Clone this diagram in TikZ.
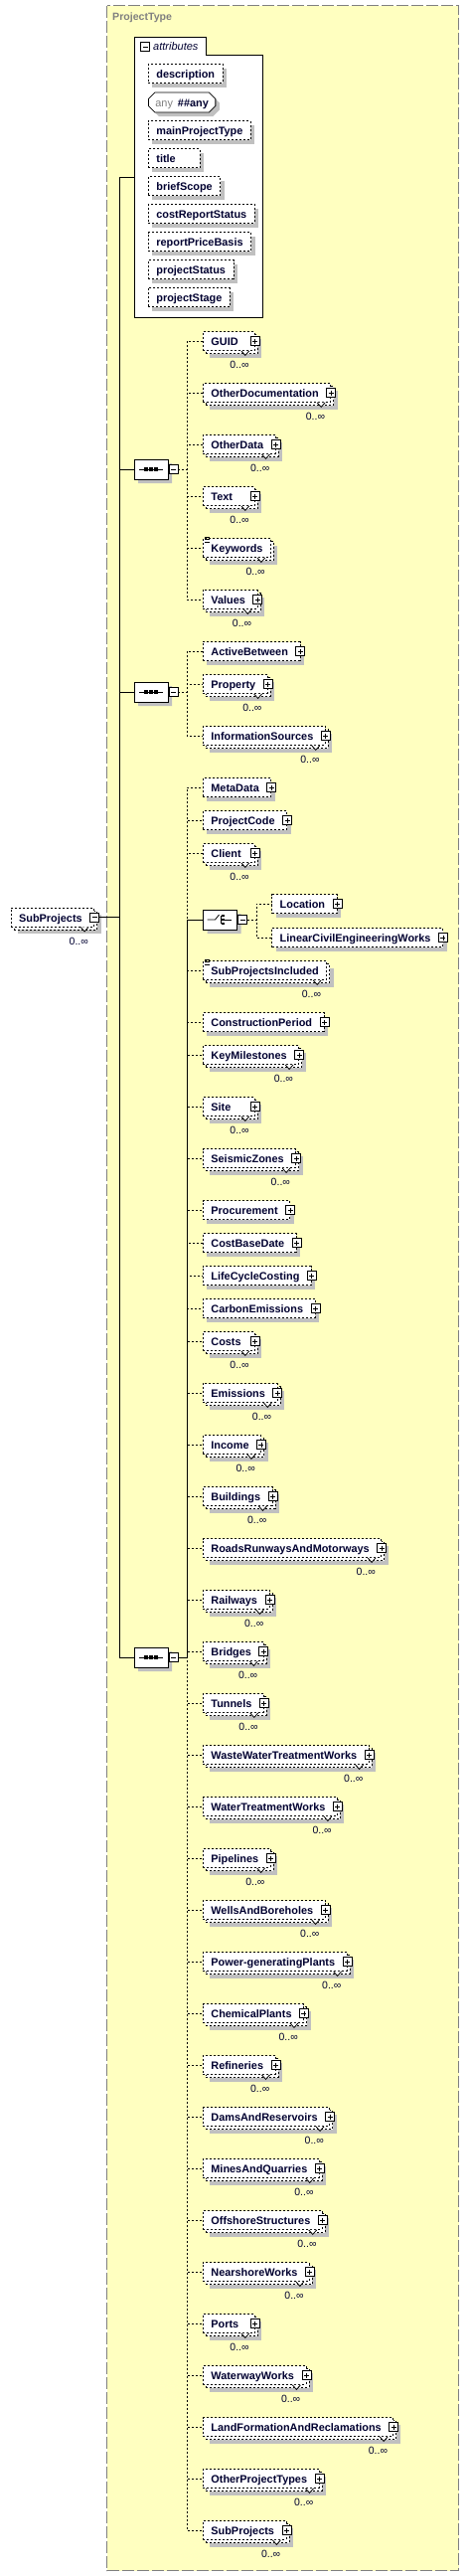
\documentclass[tikz,border=0pt]{standalone}
\usepackage{fontspec}
\setmainfont{Liberation Sans}
\usetikzlibrary{shapes.misc}
\usetikzlibrary{shadows}
\usetikzlibrary{calc}

\definecolor{ink}{RGB}{0,0,48}
\definecolor{typebg}{RGB}{255,255,192}
\definecolor{shade}{RGB}{192,192,192}
\definecolor{frame}{RGB}{128,128,128}

% name kept left in a box at least #1 wide
\newcommand\padname[2]{\setbox0=\hbox{#2}\ifdim\wd0<#1\hbox to #1{\box0\hfil}\else\box0\fi}

\tikzset{
	elem/.style = {rectangle, draw, line width = 0.8pt, dash pattern = on 2pt off 2pt, fill = white, anchor = west, minimum height = 19pt, inner xsep = 8pt, inner ysep = 0pt, text height = 9.4pt, text depth = 0pt, text = ink, font = \fontsize{10.9}{12}\selectfont\bfseries},
	kids/.style = {execute at end node = {\hspace{4pt}}},
	occ_one/.style = {drop shadow = {shadow xshift = 4pt, shadow yshift = -4pt, fill = shade, draw = none, opacity = 1}},
	occ_many/.style = {drop shadow = {shadow xshift = 7pt, shadow yshift = -7pt, fill = shade, draw = none, opacity = 1}, copy shadow = {shadow xshift = 3pt, shadow yshift = -3pt, fill = white, draw = black, line width = 0.8pt, dash pattern = on 2pt off 2pt}},
	occ_label/.style = {anchor = base east, inner sep = 0pt, text = ink, font = \fontsize{10.5}{12}\selectfont},
	notch/.style = {line width = 0.8pt, solid, fill = white},
	plus/.style = {rectangle, draw, solid, line width = 0.8pt, fill = white, minimum size = 9pt, inner sep = 0pt, path picture = {\draw[line width = 0.8pt] ([xshift = 2pt]path picture bounding box.west) -- ([xshift = -2pt]path picture bounding box.east) ([yshift = -2pt]path picture bounding box.north) -- ([yshift = 2pt]path picture bounding box.south);}},
	minus/.style = {rectangle, draw, solid, line width = 0.8pt, fill = white, minimum size = 9pt, inner sep = 0pt, path picture = {\draw[line width = 0.8pt] ([xshift = 2pt]path picture bounding box.west) -- ([xshift = -2pt]path picture bounding box.east);}},
	compositor/.style = {chamfered rectangle, chamfered rectangle xsep = 5pt, draw, solid, line width = 0.8pt, fill = white, minimum width = 34pt, minimum height = 20pt, inner sep = 0pt, occ_one},
	opt/.style = {line width = 0.8pt, dash pattern = on 2pt off 2pt},
	req/.style = {line width = 0.8pt}
}

\begin{document}
\begin{tikzpicture}[x = 1pt, y = -1pt]
	\useasboundingbox (0,0) rectangle (472,2591);

	% complex type frame
	\draw[frame, line width = 0.8pt, dash pattern = on 12pt off 3pt, fill = typebg] (107.5,5.5) rectangle (461.5,2585.5);
	\node[anchor = west, inner sep = 0pt, text = frame, font = \fontsize{10.6}{12}\selectfont\bfseries] (type_name) at (113,18) {ProjectType};

	% attributes
	\draw[req, fill = white] (135,37) -- (207,37) -- (207,55) -- (264,55) -- (264,319) -- (135,319) -- cycle;
	\node[minus] (attr_toggle) at (146,47) {};
	\node[anchor = west, inner sep = 0pt, text = ink, font = \fontsize{11}{12}\selectfont\itshape] (attr_title) at (154,47) {attributes};
	\foreach \y/\n/\t in {74/description/description, 131/main_project_type/mainProjectType, 159/title/title, 187/brief_scope/briefScope, 215/cost_report_status/costReportStatus, 243/report_price_basis/reportPriceBasis, 271/project_status/projectStatus, 299/project_stage/projectStage}
		\node[elem, occ_one] (\n) at (149,\y) {\padname{36pt}{\t}};
	\node[chamfered rectangle, chamfered rectangle xsep = 3pt, draw, req, fill = white, anchor = west, minimum height = 20pt, inner xsep = 4pt, inner ysep = 0pt, text height = 9.4pt, text depth = 0pt, text = ink, font = \fontsize{10.9}{12}\selectfont\bfseries, occ_one] (any_attr) at (149,103) {{\color{frame}\mdseries any}\hspace{5pt}\#\#any};

	% root element
	\node[elem, kids, occ_many] (sub_projects_root) at (10.7,922.5) {\padname{32pt}{SubProjects}};
	\node[minus] (root_toggle) at (sub_projects_root.east) {};

	% compositors
	\node[compositor] (seq_a) at (152,472) {};
	\node[minus] (seq_a_toggle) at (174.5,472) {};
	\node[compositor] (seq_b) at (152,696) {};
	\node[minus] (seq_b_toggle) at (174.5,696) {};
	\node[compositor] (seq_c) at (152,1667) {};
	\node[minus] (seq_c_toggle) at (174.5,1667) {};
	\node[compositor] (choice) at (221.5,925) {};
	\node[minus] (choice_toggle) at (244,925) {};

	\foreach \s in {seq_a, seq_b, seq_c} {
		\draw[req] ([xshift = -12pt]\s.center) -- ([xshift = 12pt]\s.center);
		\foreach \dx in {-5,0,5}
			\fill ($(\s.center)+(\dx,0)$) +(-1.6,-1.6) rectangle +(1.6,1.6);
	}
	\draw[req] ($(choice.center)+(-13,0)$) -- ++(8,0) -- ++(4,-5);
	\draw[req] ($(choice.center)+(1,-4)$) -- ++(0,8);
	\foreach \dy in {-4,0,4}
		\fill ($(choice.center)+(2.8,\dy)$) +(-1.5,-1.2) rectangle +(1.5,1.2);
	\draw[req] ($(choice.center)+(4,0)$) -- ++(7,0);

	% trunk
	\coordinate (trunk) at (120,922.5);
	\coordinate (attr_link) at (135,178);
	\draw[req] (root_toggle.east) -- (trunk);
	\draw[req] (trunk) |- (attr_link);
	\draw[req] (trunk) |- (seq_a.west);
	\draw[req] (trunk) |- (seq_b.west);
	\draw[req] (trunk) |- (seq_c.west);
	\draw[req] (seq_c_toggle.east) -- ++(9,0) |- (choice.west);

	% first sequence
	\foreach \y/\n/\t/\o in {343/guid/GUID/occ_many, 395/other_documentation/OtherDocumentation/occ_many, 447/other_data/OtherData/occ_many, 499/text_elem/Text/occ_many, 603/values/Values/occ_many}{
		\node[elem, kids, \o] (\n) at (204,\y) {\padname{32pt}{\t}};
		\node[plus] (\n_plus) at (\n.east) {};
		\draw[opt] (seq_a_toggle.east) -- ++(9,0) |- (\n.west);
	}
	\node[elem, occ_many] (keywords) at (204,551) {Keywords};
	\draw[opt] (seq_a_toggle.east) -- ++(9,0) |- (keywords.west);

	% second sequence
	\foreach \y/\n/\t/\o in {655/active_between/ActiveBetween/occ_one, 688/property/Property/occ_many, 740/information_sources/InformationSources/occ_many}{
		\node[elem, kids, \o] (\n) at (204,\y) {\padname{32pt}{\t}};
		\node[plus] (\n_plus) at (\n.east) {};
		\draw[opt] (seq_b_toggle.east) -- ++(9,0) |- (\n.west);
	}

	% choice
	\foreach \y/\n/\t in {909/location/Location, 943/linear_works/LinearCivilEngineeringWorks}{
		\node[elem, kids, occ_one] (\n) at (273.3,\y) {\padname{32pt}{\t}};
		\node[plus] (\n_plus) at (\n.east) {};
		\draw[opt] (choice_toggle.east) -- ++(9,0) |- (\n.west);
	}

	% third sequence
	\node[elem, occ_many] (sub_projects_included) at (204,976) {SubProjectsIncluded};
	\draw[opt] (seq_c_toggle.east) -- ++(9,0) |- (sub_projects_included.west);
	\foreach \y/\n/\t/\o in {792/meta_data/MetaData/occ_one, 825/project_code/ProjectCode/occ_one, 858/client/Client/occ_many,
		1028/construction_period/ConstructionPeriod/occ_one, 1061/key_milestones/KeyMilestones/occ_many, 1113/site/Site/occ_many,
		1165/seismic_zones/SeismicZones/occ_many, 1217/procurement/Procurement/occ_one, 1250/cost_base_date/CostBaseDate/occ_one,
		1283/life_cycle_costing/LifeCycleCosting/occ_one, 1316/carbon_emissions/CarbonEmissions/occ_one, 1349/costs/Costs/occ_many,
		1401/emissions/Emissions/occ_many, 1453/income/Income/occ_many, 1505/buildings/Buildings/occ_many,
		1557/roads/RoadsRunwaysAndMotorways/occ_many, 1609/railways/Railways/occ_many, 1661/bridges/Bridges/occ_many,
		1713/tunnels/Tunnels/occ_many, 1765/waste_water/WasteWaterTreatmentWorks/occ_many, 1817/water_treatment/WaterTreatmentWorks/occ_many,
		1869/pipelines/Pipelines/occ_many, 1921/wells/WellsAndBoreholes/occ_many, 1973/power_plants/Power-generatingPlants/occ_many,
		2025/chemical_plants/ChemicalPlants/occ_many, 2077/refineries/Refineries/occ_many, 2129/dams/DamsAndReservoirs/occ_many,
		2181/mines/MinesAndQuarries/occ_many, 2233/offshore/OffshoreStructures/occ_many, 2285/nearshore/NearshoreWorks/occ_many,
		2337/ports/Ports/occ_many, 2389/waterway/WaterwayWorks/occ_many, 2441/land_formation/LandFormationAndReclamations/occ_many,
		2493/other_project_types/OtherProjectTypes/occ_many, 2545/sub_projects/SubProjects/occ_many}{
		\node[elem, kids, \o] (\n) at (204,\y) {\padname{32pt}{\t}};
		\node[plus] (\n_plus) at (\n.east) {};
		\draw[opt] (seq_c_toggle.east) -- ++(9,0) |- (\n.west);
	}

	% simple content marks
	\foreach \n in {keywords, sub_projects_included}
		\foreach \dy in {-1,1.5,4}
			\draw[req] ($(\n.north west)+(2,\dy)$) -- ++(5,0);

	% occurrence marks
	\foreach \n in {sub_projects_root, guid, other_documentation, other_data, text_elem, keywords, values, property, information_sources,
		client, sub_projects_included, key_milestones, site, seismic_zones, costs, emissions, income, buildings, roads, railways,
		bridges, tunnels, waste_water, water_treatment, pipelines, wells, power_plants, chemical_plants, refineries, dams, mines,
		offshore, nearshore, ports, waterway, land_formation, other_project_types, sub_projects}{
		\draw[notch] ([xshift = -14pt]\n.south east) -- ++(4,4.5) -- ++(4,-4.5);
		\node[occ_label] (\n_occ) at ([xshift = -6pt, yshift = -17.8pt]\n.south east) {0..∞};
	}
\end{tikzpicture}
\end{document}
